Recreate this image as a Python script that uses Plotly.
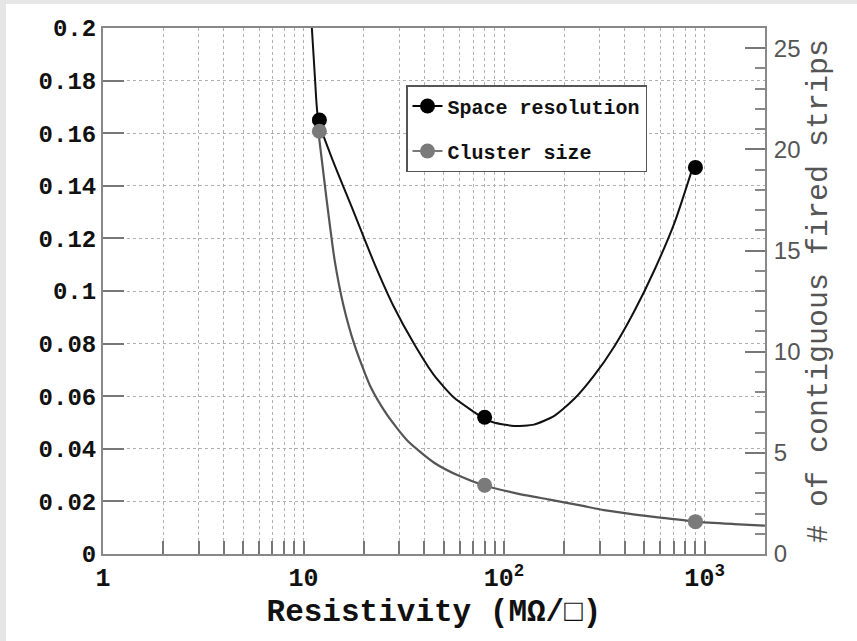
import plotly.graph_objects as go

# ---------------- data ----------------
pts_x = [12, 80, 900]
space_res = [0.165, 0.052, 0.147]
space_res_xerr = [0.8, 5, 60]
cluster_size = [20.9, 3.4, 1.6]
cluster_xerr = [0.8, 5, 60]

fit_sr_x = [11.0, 11.4, 11.85, 14.1, 17.8, 22.4, 28.2, 35.5, 44.7, 56.2, 70.8, 79, 89, 112,
            141, 178, 224, 282, 355, 447, 562, 708, 873]
fit_sr_y = [0.2, 0.181, 0.165, 0.149, 0.130, 0.111, 0.094, 0.080, 0.068, 0.0595, 0.0540, 0.0516,
            0.0500, 0.0487, 0.0492, 0.0525, 0.059, 0.068, 0.079, 0.0925, 0.108, 0.126, 0.147]

fit_cs_x = [11.85, 13, 14.3, 15.8, 18, 21.5, 26, 33, 45, 60, 79, 115, 166, 240, 315, 450,
            600, 902, 1400, 2000]
fit_cs_y = [20.9, 17.6, 14.5, 12.3, 10.3, 8.3, 6.9, 5.6, 4.5, 3.85, 3.4, 3.0, 2.7, 2.4, 2.17,
            1.95, 1.8, 1.6, 1.48, 1.4]

x_ticks = [1, 10, 100, 1000]
x_ticktext = ["1", "10", "10<sup>2</sup>", "10<sup>3</sup>"]
y_ticks = [0, 0.02, 0.04, 0.06, 0.08, 0.1, 0.12, 0.14, 0.16, 0.18, 0.2]
y_ticktext = ["0", "0.02", "0.04", "0.06", "0.08", "0.1", "0.12", "0.14", "0.16", "0.18", "0.2"]
y2_ticks = [0, 5, 10, 15, 20, 25]

# minor log positions (grid + ticks)
x_minor = [m * d for d in (1, 10, 100, 1000) for m in range(1, 10) if m * d <= 2000]

MONO = "Liberation Mono, Courier New, monospace"
GRAYC = "#7a7a7a"

W, H = 857, 641
L, R, T, B = 103, 92, 28, 87
PW, PH = W - L - R, H - T - B

fig = go.Figure()

# fitted curves
fig.add_trace(go.Scatter(x=fit_sr_x, y=fit_sr_y, mode="lines",
                         line=dict(color="#111111", width=2, shape="spline", smoothing=0.6),
                         showlegend=False, hoverinfo="skip"))
fig.add_trace(go.Scatter(x=fit_cs_x, y=fit_cs_y, mode="lines", yaxis="y2",
                         line=dict(color="#555555", width=2.2, shape="spline", smoothing=0.6),
                         showlegend=False, hoverinfo="skip"))

# data points
fig.add_trace(go.Scatter(x=pts_x, y=space_res, mode="markers",
                         marker=dict(color="black", size=15),
                         error_x=dict(type="data", array=space_res_xerr, color="black", thickness=1.5, width=3),
                         showlegend=False))
fig.add_trace(go.Scatter(x=pts_x, y=cluster_size, mode="markers", yaxis="y2",
                         marker=dict(color=GRAYC, size=15),
                         error_x=dict(type="data", array=cluster_xerr, color=GRAYC, thickness=1.5, width=3),
                         showlegend=False))

# legend entries
fig.add_trace(go.Scatter(x=[None], y=[None], mode="lines+markers", name="Space resolution",
                         line=dict(color="black", width=2), marker=dict(color="black", size=15),
                         legendgroup="a"))
fig.add_trace(go.Scatter(x=[None], y=[None], mode="lines+markers", name="Cluster size",
                         line=dict(color=GRAYC, width=2), marker=dict(color=GRAYC, size=15),
                         legendgroup="b"))

fig.update_layout(
    width=W, height=H,
    margin=dict(l=L, r=R, t=T, b=B),
    paper_bgcolor="white", plot_bgcolor="white",
    xaxis=dict(type="log", range=[0, 3.301],
               tickvals=x_minor,
               ticktext=[x_ticktext[x_ticks.index(v)] if v in x_ticks else "" for v in x_minor],
               ticks="inside", ticklen=13, tickwidth=1.5, tickcolor="#777",
               tickfont=dict(family=MONO, size=25, color="#111", weight="bold"),
               showgrid=True, gridcolor="#b0b0b0", griddash="dot", gridwidth=1,
               showline=True, linecolor="#888", linewidth=2, mirror=True,
               title=dict(text="Resistivity (MΩ/□)",
                         font=dict(family=MONO, size=31, color="#111", weight="bold"),
                         standoff=6),
               zeroline=False),
    yaxis=dict(range=[0, 0.2], tickvals=y_ticks, ticktext=y_ticktext,
               ticks="inside", ticklen=21, tickwidth=2, tickcolor="#777",
               tickfont=dict(family=MONO, size=24, color="#111", weight="bold"),
               showgrid=True, gridcolor="#b0b0b0", griddash="dot", gridwidth=1,
               showline=True, linecolor="#888", linewidth=2, zeroline=False),
    yaxis2=dict(range=[0, 26], overlaying="y", side="right",
                tickvals=y2_ticks, ticks="inside", ticklen=20, tickwidth=2, tickcolor="#777",
                minor=dict(dtick=1, ticks="inside", ticklen=10, tickwidth=1.5, tickcolor="#888"),
                tickfont=dict(family="Liberation Sans, Arial, sans-serif", size=24, color="#555"),
                ticklabelstandoff=2,
                showgrid=False, showline=True, linecolor="#888", linewidth=2, zeroline=False,
                title=dict(text="# of contiguous fired strips",
                           font=dict(family=MONO, size=30, color="#555"), standoff=6)),
    legend=dict(x=(406 - L) / PW, y=(H - B - 85) / PH, xanchor="left", yanchor="top",
                bgcolor="white", bordercolor="#555", borderwidth=1.5,
                font=dict(family=MONO, size=20, color="#111", weight="bold"),
                tracegroupgap=16, itemwidth=30),
    shapes=[
        dict(type="rect", xref="paper", yref="paper", x0=-L / PW, x1=(W - L) / PW,
             y0=(H - B - 4) / PH, y1=(H - B + 2) / PH,
             fillcolor="#e6e6e6", line=dict(width=0), layer="below"),
        dict(type="rect", xref="paper", yref="paper", x0=-L / PW - 0.01, x1=(6 - L) / PW,
             y0=-B / PH - 0.01, y1=(H - B + 2) / PH,
             fillcolor="#e6e6e6", line=dict(width=0), layer="below"),
    ],
)

fig.write_html("out.html")
